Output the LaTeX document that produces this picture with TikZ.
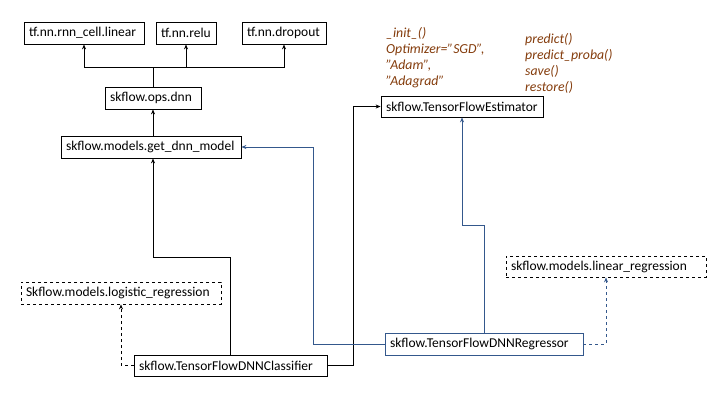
\documentclass[tikz,border=0pt]{standalone}
\usepackage{fontspec}
\setmainfont{Carlito}
\usetikzlibrary{arrows.meta,positioning}
\definecolor{linkblue}{RGB}{52,88,140}
\definecolor{notebrown}{RGB}{132,60,12}
\begin{document}
\begin{tikzpicture}[
  x=1pt, y=-1pt,
  font=\fontsize{13.5}{15}\selectfont,
  module/.style={draw, line width=0.8pt, minimum height=22pt, inner xsep=5pt, inner ysep=0pt, align=left},
  optional/.style={module, dashed},
  flow/.style={-{Stealth[length=5pt,width=4pt]}, line width=0.8pt},
  blueflow/.style={flow, draw=linkblue},
  aux/.style={flow, dashed},
  note/.style={font=\fontsize{13.8}{16}\selectfont\itshape, text=notebrown, align=left, anchor=north west, inner sep=0pt}
]
\useasboundingbox (0,0) rectangle (720,405);

\node[module, text width=110pt] (linear) at (84,33) {tf.nn.rnn\_cell.linear};
\node[module, text width=50pt] (relu) at (186,33) {tf.nn.relu};
\node[module, text width=74pt] (dropout) at (284,33) {tf.nn.dropout};
\node[module, text width=86pt] (opsdnn) at (153,98) {skflow.ops.dnn};
\node[module, text width=170pt] (getdnn) at (151,147) {skflow.models.get\_dnn\_model};
\node[module, text width=152pt, minimum height=21pt] (estimator) at (462,106.5) {skflow.TensorFlowEstimator};
\node[optional, text width=190pt] (logistic) at (121,293) {Skflow.models.logistic\_regression};
\node[module, text width=183pt, minimum height=21pt] (classifier) at (230.5,365.5) {skflow.TensorFlowDNNClassifier};
\node[module, draw=linkblue, text width=188pt] (regressor) at (484,344) {skflow.TensorFlowDNNRegressor};
\node[optional, text width=190pt, minimum height=21pt] (linreg) at (606,266.5) {skflow.models.linear\_regression};

\node[note] (initnote) at (386,27) {\_init\_()\\Optimizer="SGD",\\"Adam",\\"Adagrad"};
\node[note] (methodnote) at (525,33) {predict()\\predict\_proba()\\save()\\restore()};

% ops.dnn calls the three tf ops
\coordinate (split) at (153,67);
\draw[line width=0.8pt] (opsdnn.north) -- (split);
\draw[flow] (split) -| (linear.south);
\draw[flow] (split) -| (relu.south);
\draw[flow] (split) -| (dropout.south);
\draw[flow] (getdnn.north -| opsdnn) -- (opsdnn.south);

% classifier
\draw[flow] (classifier.north) |- (153,257) -- (getdnn.south -| opsdnn);
\draw[flow] (classifier.east) -- (353,365.5) |- (estimator.west);
\draw[aux] (classifier.west) -| (logistic.south);

% regressor
\draw[blueflow] (regressor.west) -| (313,147) -- (getdnn.east);
\draw[blueflow] (regressor.north) |- (462,225) -- (estimator.south);
\draw[aux, draw=linkblue] (regressor.east) -| (linreg.south);
\end{tikzpicture}
\end{document}
